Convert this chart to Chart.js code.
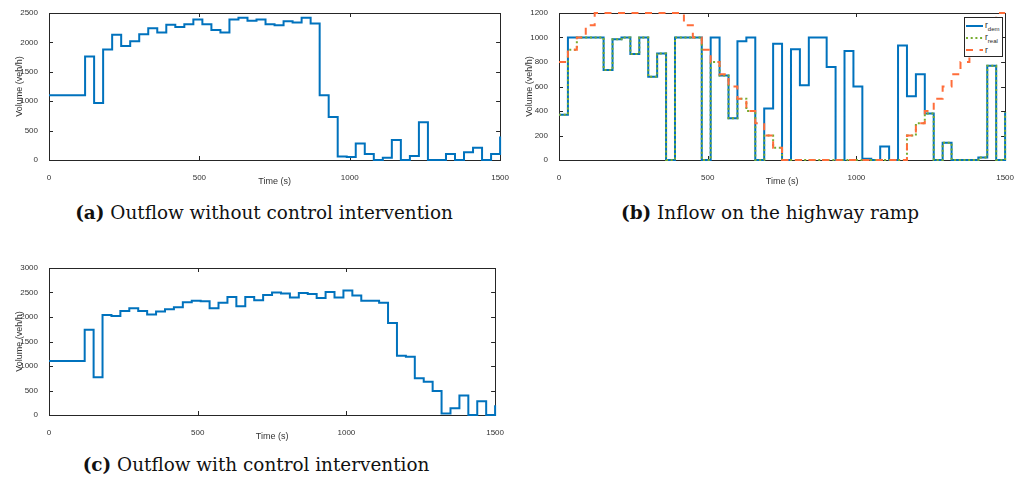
<!DOCTYPE html>
<html>
<head>
<meta charset="utf-8">
<script src="https://cdn.jsdelivr.net/npm/chart.js@4/dist/chart.umd.min.js"></script>
<style>
  body { margin: 0; background: #fff; width: 1019px; height: 481px; position: relative; overflow: hidden; }
  .panel { position: absolute; }
  .caption { position: absolute; transform: translateX(-50%); white-space: nowrap;
             font-family: 'DejaVu Serif', 'Liberation Serif', serif; font-size: 18.4px; line-height: 20px; color: #111; }
  #legend { position: absolute; left: 964px; top: 17px; width: 37px; height: 36px; padding-top: 2px;
            border: 1px solid #262626; background: #fff; font: 8.5px 'Liberation Sans', Arial, sans-serif; color: #262626; }
  #legend .row { display: flex; align-items: center; height: 12px; margin-left: 1px; }
  #legend svg { margin-right: 2px; }
  #legend sub { font-size: 6px; vertical-align: -3px; }
</style>
</head>
<body>

<div class="panel" style="left:0;top:0;"><canvas id="chartA" width="514" height="190"></canvas></div>
<div class="panel" style="left:510px;top:0;"><canvas id="chartB" width="509" height="190"></canvas></div>
<div class="panel" style="left:0;top:255px;"><canvas id="chartC" width="509" height="190"></canvas></div>

<div id="legend">
  <div class="row"><svg width="17" height="6"><line x1="0" y1="3" x2="17" y2="3" stroke="#0072BD" stroke-width="2"/></svg><span>r<sub>dem</sub></span></div>
  <div class="row"><svg width="17" height="6"><line x1="0" y1="3" x2="17" y2="3" stroke="#77AC30" stroke-width="2" stroke-dasharray="2 2.7"/></svg><span>r<sub>real</sub></span></div>
  <div class="row"><svg width="17" height="6"><line x1="0" y1="3" x2="17" y2="3" stroke="#FF6D3A" stroke-width="2" stroke-dasharray="7 6.5"/></svg><span>r</span></div>
</div>

<div class="caption" style="left:264px;top:203px;"><b>(a)</b> Outflow without control intervention</div>
<div class="caption" style="left:770px;top:203px;"><b>(b)</b> Inflow on the highway ramp</div>
<div class="caption" style="left:256px;top:455px;"><b>(c)</b> Outflow with control intervention</div>

<script>
// simulation time stamps (s), one value per 30 s interval, held until the next stamp
const timeSteps = [0, 30, 60, 90, 120, 150, 180, 210, 240, 270, 300, 330, 360, 390, 420, 450, 480, 510, 540, 570,
  600, 630, 660, 690, 720, 750, 780, 810, 840, 870, 900, 930, 960, 990, 1020, 1050, 1080, 1110, 1140, 1170,
  1200, 1230, 1260, 1290, 1320, 1350, 1380, 1410, 1440, 1470, 1500];

// (a) outflow without control (veh/h)
const outflowNoControl = [1100, 1100, 1100, 1100, 1760, 970, 1880, 2130, 1940, 2020,
  2140, 2240, 2170, 2300, 2260, 2310, 2390, 2310, 2210, 2170,
  2390, 2420, 2370, 2390, 2310, 2290, 2360, 2340, 2420, 2320,
  1100, 730, 60, 50, 280, 100, 0, 40, 340, 0,
  70, 640, 0, 0, 100, 0, 130, 210, 0, 100,
  400];

// (b) ramp flows (veh/h)
const rampDemand = [370, 1000, 1000, 1000, 1000, 735, 985, 1000, 865, 1000,
  680, 870, 0, 1000, 1000, 1000, 0, 1000, 690, 340,
  970, 1000, 0, 420, 950, 0, 905, 610, 1000, 1000,
  760, 0, 890, 600, 10, 0, 110, 0, 935, 520,
  700, 380, 0, 140, 0, 0, 0, 20, 770, 0,
  390];
const rampReal = [370, 900, 1000, 1000, 1000, 735, 985, 1000, 865, 1000,
  680, 870, 0, 1000, 1000, 1000, 0, 800, 690, 340,
  500, 400, 0, 200, 100, 0, 0, 0, 0, 0,
  0, 0, 0, 0, 0, 0, 0, 0, 0, 200,
  300, 380, 0, 140, 0, 0, 0, 20, 770, 0,
  390];
const rampRate = [800, 900, 1000, 1100, 1200, 1200, 1200, 1200, 1200, 1200,
  1200, 1200, 1200, 1200, 1100, 1000, 900, 800, 700, 600,
  500, 400, 300, 200, 100, 0, 0, 0, 0, 0,
  0, 0, 0, 0, 0, 0, 0, 0, 0, 200,
  300, 400, 500, 600, 700, 800, 900, 1000, 1100, 1200,
  1200];

// (c) outflow with control (veh/h)
const outflowControl = [1100, 1100, 1100, 1100, 1740, 770, 2040, 2020, 2120, 2180,
  2120, 2050, 2110, 2160, 2200, 2300, 2330, 2320, 2180, 2290,
  2410, 2220, 2410, 2340, 2450, 2500, 2480, 2400, 2490, 2470,
  2390, 2510, 2400, 2540, 2440, 2330, 2330, 2290, 1880, 1210,
  1190, 750, 680, 490, 30, 140, 400, 0, 280, 0,
  200];

const axisColor = '#262626';
Chart.defaults.font.family = "'Liberation Sans', Arial, sans-serif";
Chart.defaults.color = '#333';

function series(values) {
  return timeSteps.map((t, i) => ({ x: t, y: values[i] }));
}

// matlab-like box with ticks pointing inward on all four sides
const boxTicks = {
  id: 'boxTicks',
  beforeDatasetsDraw(chart) {
    const { ctx, chartArea: a, scales: { x, y } } = chart;
    ctx.save();
    ctx.strokeStyle = axisColor;
    ctx.lineWidth = 1;
    ctx.beginPath();
    x.ticks.forEach(t => {
      const px = Math.round(x.getPixelForValue(t.value)) + 0.5;
      ctx.moveTo(px, a.bottom); ctx.lineTo(px, a.bottom - 4);
      ctx.moveTo(px, a.top); ctx.lineTo(px, a.top + 4);
    });
    y.ticks.forEach(t => {
      const py = Math.round(y.getPixelForValue(t.value)) + 0.5;
      ctx.moveTo(a.left, py); ctx.lineTo(a.left + 4, py);
      ctx.moveTo(a.right, py); ctx.lineTo(a.right - 4, py);
    });
    ctx.stroke();
    ctx.strokeRect(Math.round(a.left) + 0.5, Math.round(a.top) + 0.5, Math.round(a.width), Math.round(a.height));
    ctx.restore();
  }
};

const plainNumber = v => String(v);

function panelOptions(yMax, yStep) {
  return {
    responsive: false,
    animation: false,
    events: [],
    layout: { padding: { left: 0, top: 13, right: 12, bottom: 0 } },
    plugins: { legend: { display: false }, tooltip: { enabled: false } },
    elements: { point: { radius: 0 }, line: { borderWidth: 2, tension: 0 } },
    scales: {
      x: {
        type: 'linear', min: 0, max: 1500,
        grid: { display: false }, border: { display: false },
        ticks: { stepSize: 500, padding: 5, maxRotation: 0, font: { size: 8 }, callback: plainNumber },
        title: { display: true, text: 'Time (s)', font: { size: 9 }, padding: { top: 0, bottom: 3 } },
        afterFit: s => { s.height = 30; }
      },
      y: {
        min: 0, max: yMax,
        grid: { display: false }, border: { display: false },
        ticks: { stepSize: yStep, padding: 3, font: { size: 8 }, callback: plainNumber },
        title: { display: true, text: 'Volume (veh/h)', font: { size: 9 }, padding: { top: 14, bottom: 0 } },
        afterFit: s => { s.width = 49; }
      }
    }
  };
}

function line(label, values, color, dash, order) {
  return {
    label: label,
    data: series(values),
    borderColor: color,
    borderDash: dash,
    stepped: true,
    fill: false,
    clip: false,
    order: order
  };
}

new Chart(document.getElementById('chartA'), {
  type: 'line',
  data: { datasets: [line('Outflow', outflowNoControl, '#0072BD', [], 0)] },
  options: panelOptions(2500, 500),
  plugins: [boxTicks]
});

new Chart(document.getElementById('chartB'), {
  type: 'line',
  data: {
    datasets: [
      line('r_dem', rampDemand, '#0072BD', [], 2),
      line('r_real', rampReal, '#77AC30', [2, 2.7], 1),
      line('r', rampRate, '#FF6D3A', [7, 6.5], 0)
    ]
  },
  options: panelOptions(1200, 200),
  plugins: [boxTicks]
});

new Chart(document.getElementById('chartC'), {
  type: 'line',
  data: { datasets: [line('Outflow', outflowControl, '#0072BD', [], 0)] },
  options: panelOptions(3000, 500),
  plugins: [boxTicks]
});
</script>
</body>
</html>
